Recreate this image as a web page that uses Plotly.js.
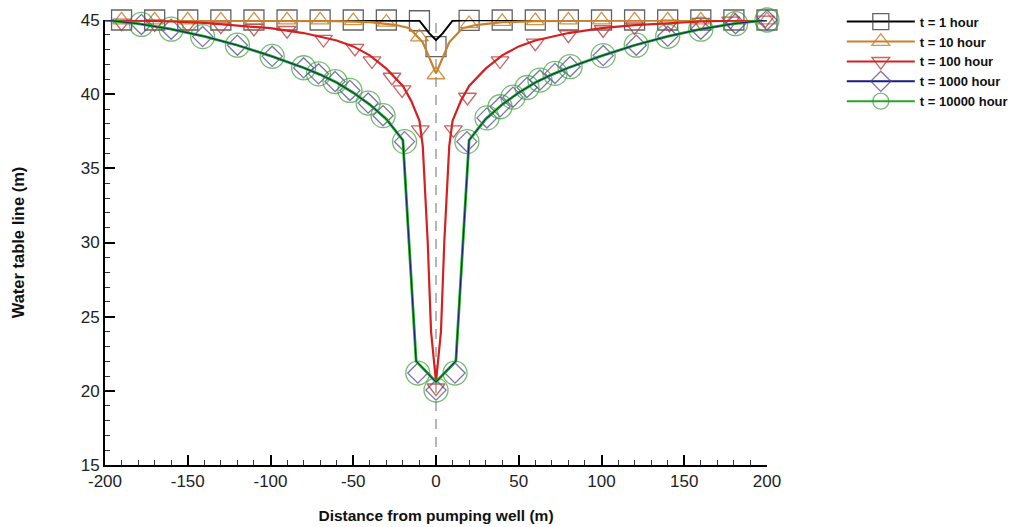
<!DOCTYPE html>
<html>
<head>
<meta charset="utf-8">
<script src="https://cdn.plot.ly/plotly-3.0.1.min.js"></script>
<style>html,body{margin:0;padding:0;background:#fff;}#chart{width:1021px;height:527px;}</style>
</head>
<body>
<div id="chart"></div>
<script>
// ---- series names ----
var seriesNames = ["t = 1 hour", "t = 10 hour", "t = 100 hour", "t = 1000 hour", "t = 10000 hour"];

// ---- tick labels ----
var xTickVals = [-200, -150, -100, -50, 0, 50, 100, 150, 200];
var xTickText = ["-200", "-150", "-100", "-50", "0", "50", "100", "150", "200"];
var yTickVals = [15, 20, 25, 30, 35, 40, 45];
var yTickText = ["15", "20", "25", "30", "35", "40", "45"];

// ---- line data (distance m, water table m) ----
var t1LineX = [-200, -100, -20, -10, -4, 0, 4, 10, 20, 100, 200];
var t1LineY = [45.0, 45.0, 44.98, 44.95, 44.1, 43.65, 44.1, 44.95, 44.98, 45.0, 45.0];

var t10LineX = [-200, -100, -60, -40, -24, -16, -8, 0, 8, 16, 24, 40, 60, 100, 200];
var t10LineY = [44.97, 44.95, 44.92, 44.85, 44.66, 44.45, 43.5, 41.4, 43.5, 44.45, 44.66, 44.85, 44.92, 44.95, 44.97];

var t100LineX = [-200, -180, -160, -140, -120, -100, -80, -60, -50, -40, -30, -20, -15, -10, -8, -5, -3, 0,
                 3, 5, 8, 10, 15, 20, 30, 40, 50, 60, 80, 100, 120, 140, 160, 180, 200];
var t100LineY = [45.0, 44.96, 44.9, 44.8, 44.65, 44.45, 44.12, 43.62, 43.22, 42.62, 41.72, 40.55, 39.55, 38.2, 36.5, 30.0, 24.0, 20.6,
                 24.0, 30.0, 36.5, 38.2, 39.55, 40.55, 41.72, 42.62, 43.22, 43.62, 44.12, 44.45, 44.65, 44.8, 44.9, 44.96, 45.0];

var t1000LineX = [-200, -180, -160, -140, -120, -100, -80, -70, -60, -50, -40, -30, -20, -12, -6, 0,
                  6, 12, 20, 30, 40, 50, 60, 70, 80, 100, 120, 140, 160, 180, 200];
var t1000LineY = [45.0, 44.75, 44.38, 43.9, 43.3, 42.58, 41.78, 41.32, 40.78, 40.1, 39.3, 38.32, 36.9, 22.0, 21.3, 20.6,
                  21.3, 22.0, 36.9, 38.32, 39.3, 40.1, 40.78, 41.32, 41.78, 42.58, 43.3, 43.9, 44.38, 44.75, 45.0];

var t10000LineX = [-200, -180, -160, -140, -120, -100, -80, -70, -60, -50, -40, -30, -20, -12, -6, 0,
                   6, 12, 20, 30, 40, 50, 60, 70, 80, 100, 120, 140, 160, 180, 200];
var t10000LineY = [45.0, 44.75, 44.38, 43.9, 43.3, 42.58, 41.78, 41.32, 40.78, 40.1, 39.3, 38.32, 36.9, 22.0, 21.3, 20.6,
                   21.3, 22.0, 36.9, 38.32, 39.3, 40.1, 40.78, 41.32, 41.78, 42.58, 43.3, 43.9, 44.38, 44.75, 45.0];

// ---- symbol positions ----
var t1MarkX = [-190, -170, -150, -130, -110, -90, -70, -50, -30, -10, 0, 20, 40, 60, 80, 100, 120, 140, 160, 180, 200];
var t1MarkY = [45, 45, 45, 45, 45, 45, 45, 45, 45, 44.95, 43.2, 44.97, 45, 45, 45, 45, 45, 45, 45, 45, 45];

var t10MarkX = [-190, -170, -150, -130, -110, -90, -70, -50, -30, -10, 0, 20, 40, 60, 80, 100, 120, 140, 160, 180, 200];
var t10MarkY = [45, 45, 45, 45, 45, 45, 45, 44.95, 44.85, 43.85, 41.3, 44.75, 44.9, 44.95, 45, 45, 45, 45, 45, 45, 45];

var t100MarkX = [-190, -170, -150, -130, -110, -90, -68, -49, -38.7, -26.6, -20.5, -9.5, 0,
                 10.5, 19, 38.7, 60, 80, 101, 120, 141, 160, 178, 199];
var t100MarkY = [44.8, 44.75, 44.7, 44.6, 44.45, 44.3, 43.7, 43.1, 42.25, 41.15, 40.3, 37.6, 20.2,
                 37.6, 39.8, 42.25, 43.45, 44.0, 44.35, 44.55, 44.72, 44.85, 44.93, 45.0];

var t1000MarkX = [-201, -178, -160, -141, -120, -99, -80, -71, -61, -52, -41, -32, -19, -11, 0,
                  11.5, 18.7, 30.8, 38.7, 46.5, 55, 62.8, 71.9, 81, 101, 121, 140, 160, 181, 200];
var t1000MarkY = [45.0, 44.7, 44.38, 43.88, 43.3, 42.55, 41.78, 41.37, 40.85, 40.25, 39.4, 38.55, 36.8, 21.2, 20.05,
                  21.2, 36.8, 38.4, 39.15, 39.8, 40.45, 40.95, 41.4, 41.85, 42.6, 43.3, 43.9, 44.38, 44.75, 45.0];
var t10000MarkX = [-201, -178, -160, -141, -120, -99, -80, -71, -61, -52, -41, -32, -19, -11, 0,
                   11.5, 18.7, 30.8, 38.7, 46.5, 55, 62.8, 71.9, 81, 101, 121, 140, 160, 181, 200];
var t10000MarkY = [45.0, 44.7, 44.38, 43.88, 43.3, 42.55, 41.78, 41.37, 40.85, 40.25, 39.4, 38.55, 36.8, 21.2, 20.05,
                   21.2, 36.8, 38.4, 39.15, 39.8, 40.45, 40.95, 41.4, 41.85, 42.6, 43.3, 43.9, 44.38, 44.75, 45.0];

// ---- styles ----
var lineColors = ["#000000", "#C9802A", "#D42020", "#1A1A80", "#22A822"];
var markColors = ["rgba(60,60,60,0.8)", "rgba(200,128,42,0.85)", "rgba(185,60,60,0.8)", "rgba(80,70,140,0.75)", "rgba(40,150,40,0.65)"];
var symbols = ["square-open", "triangle-up-open", "triangle-down-open", "diamond-open", "circle-open"];
var markSizes = [20, 15.5, 15.5, 15.5, 24];

var lines = [[t1LineX, t1LineY], [t10LineX, t10LineY], [t100LineX, t100LineY], [t1000LineX, t1000LineY], [t10000LineX, t10000LineY]];
var marks = [[t1MarkX, t1MarkY], [t10MarkX, t10MarkY], [t100MarkX, t100MarkY], [t1000MarkX, t1000MarkY], [t10000MarkX, t10000MarkY]];
var lineWidths = [2, 2.2, 2.2, 1.0, 2.8];

var traces = [];
for (var i = 0; i < 5; i++) {
  traces.push({
    x: marks[i][0], y: marks[i][1], type: "scatter", mode: "markers",
    marker: {symbol: symbols[i], size: markSizes[i], color: markColors[i], line: {width: 1.3, color: markColors[i]}},
    showlegend: false, cliponaxis: false, hoverinfo: "skip"
  });
}
var lineOrder = [0, 1, 2, 4, 3];
for (var k = 0; k < 5; k++) {
  var j = lineOrder[k];
  traces.push({
    x: lines[j][0], y: lines[j][1], type: "scatter", mode: "lines",
    line: {color: lineColors[j], width: lineWidths[j]},
    showlegend: false, cliponaxis: false
  });
}
for (var m = 0; m < 5; m++) {
  traces.push({
    x: [null], y: [null], type: "scatter", mode: "lines+markers", name: seriesNames[m],
    line: {color: lineColors[m], width: 2},
    marker: {symbol: symbols[m], size: markSizes[m], color: markColors[m], line: {width: 1.3, color: markColors[m]}},
    showlegend: true
  });
}

var fam = "Liberation Sans, Arial, sans-serif";

var layout = {
  width: 1021, height: 527,
  margin: {l: 105, r: 254, t: 20, b: 62, autoexpand: false},
  paper_bgcolor: "#fff", plot_bgcolor: "#fff",
  font: {family: fam, size: 16, color: "#222"},
  showlegend: true,
  legend: {
    x: 1.113, y: 1.03, xanchor: "left", yanchor: "top",
    font: {family: fam, size: 13, color: "#111", weight: "bold"},
    itemwidth: 68, tracegroupgap: 0, bgcolor: "rgba(0,0,0,0)"
  },
  xaxis: {
    range: [-200, 200], tickmode: "array", tickvals: xTickVals, ticktext: xTickText,
    ticks: "inside", ticklen: 10, tickwidth: 2, tickcolor: "#000",
    showline: true, linecolor: "#000", linewidth: 2, mirror: false,
    showgrid: false, zeroline: false, automargin: false,
    minor: {tickmode: "linear", tick0: -200, dtick: 10, ticks: "inside", ticklen: 5, tickwidth: 1, tickcolor: "#333", showgrid: false},
    tickfont: {family: fam, size: 17, color: "#222"},
    title: {text: "Distance from pumping well (m)", standoff: 20,
            font: {family: fam, size: 15.5, color: "#111", weight: "bold"}}
  },
  yaxis: {
    range: [15, 45], tickmode: "array", tickvals: yTickVals, ticktext: yTickText,
    ticks: "inside", ticklen: 10, tickwidth: 2, tickcolor: "#000",
    showline: true, linecolor: "#000", linewidth: 2, mirror: false,
    showgrid: false, zeroline: false, automargin: false,
    minor: {tickmode: "linear", tick0: 15, dtick: 1, ticks: "inside", ticklen: 5, tickwidth: 1, tickcolor: "#333", showgrid: false},
    tickfont: {family: fam, size: 17, color: "#222"},
    title: {text: "Water table line (m)", standoff: 52,
            font: {family: fam, size: 16.5, color: "#111", weight: "bold"}}
  },
  shapes: [{
    type: "line", xref: "x", yref: "y", x0: 0, x1: 0, y0: 15, y1: 45,
    line: {color: "#888", width: 1.2, dash: "10px,8px"}, layer: "below"
  }]
};

Plotly.newPlot("chart", traces, layout, {staticPlot: true, displayModeBar: false});
</script>
</body>
</html>
